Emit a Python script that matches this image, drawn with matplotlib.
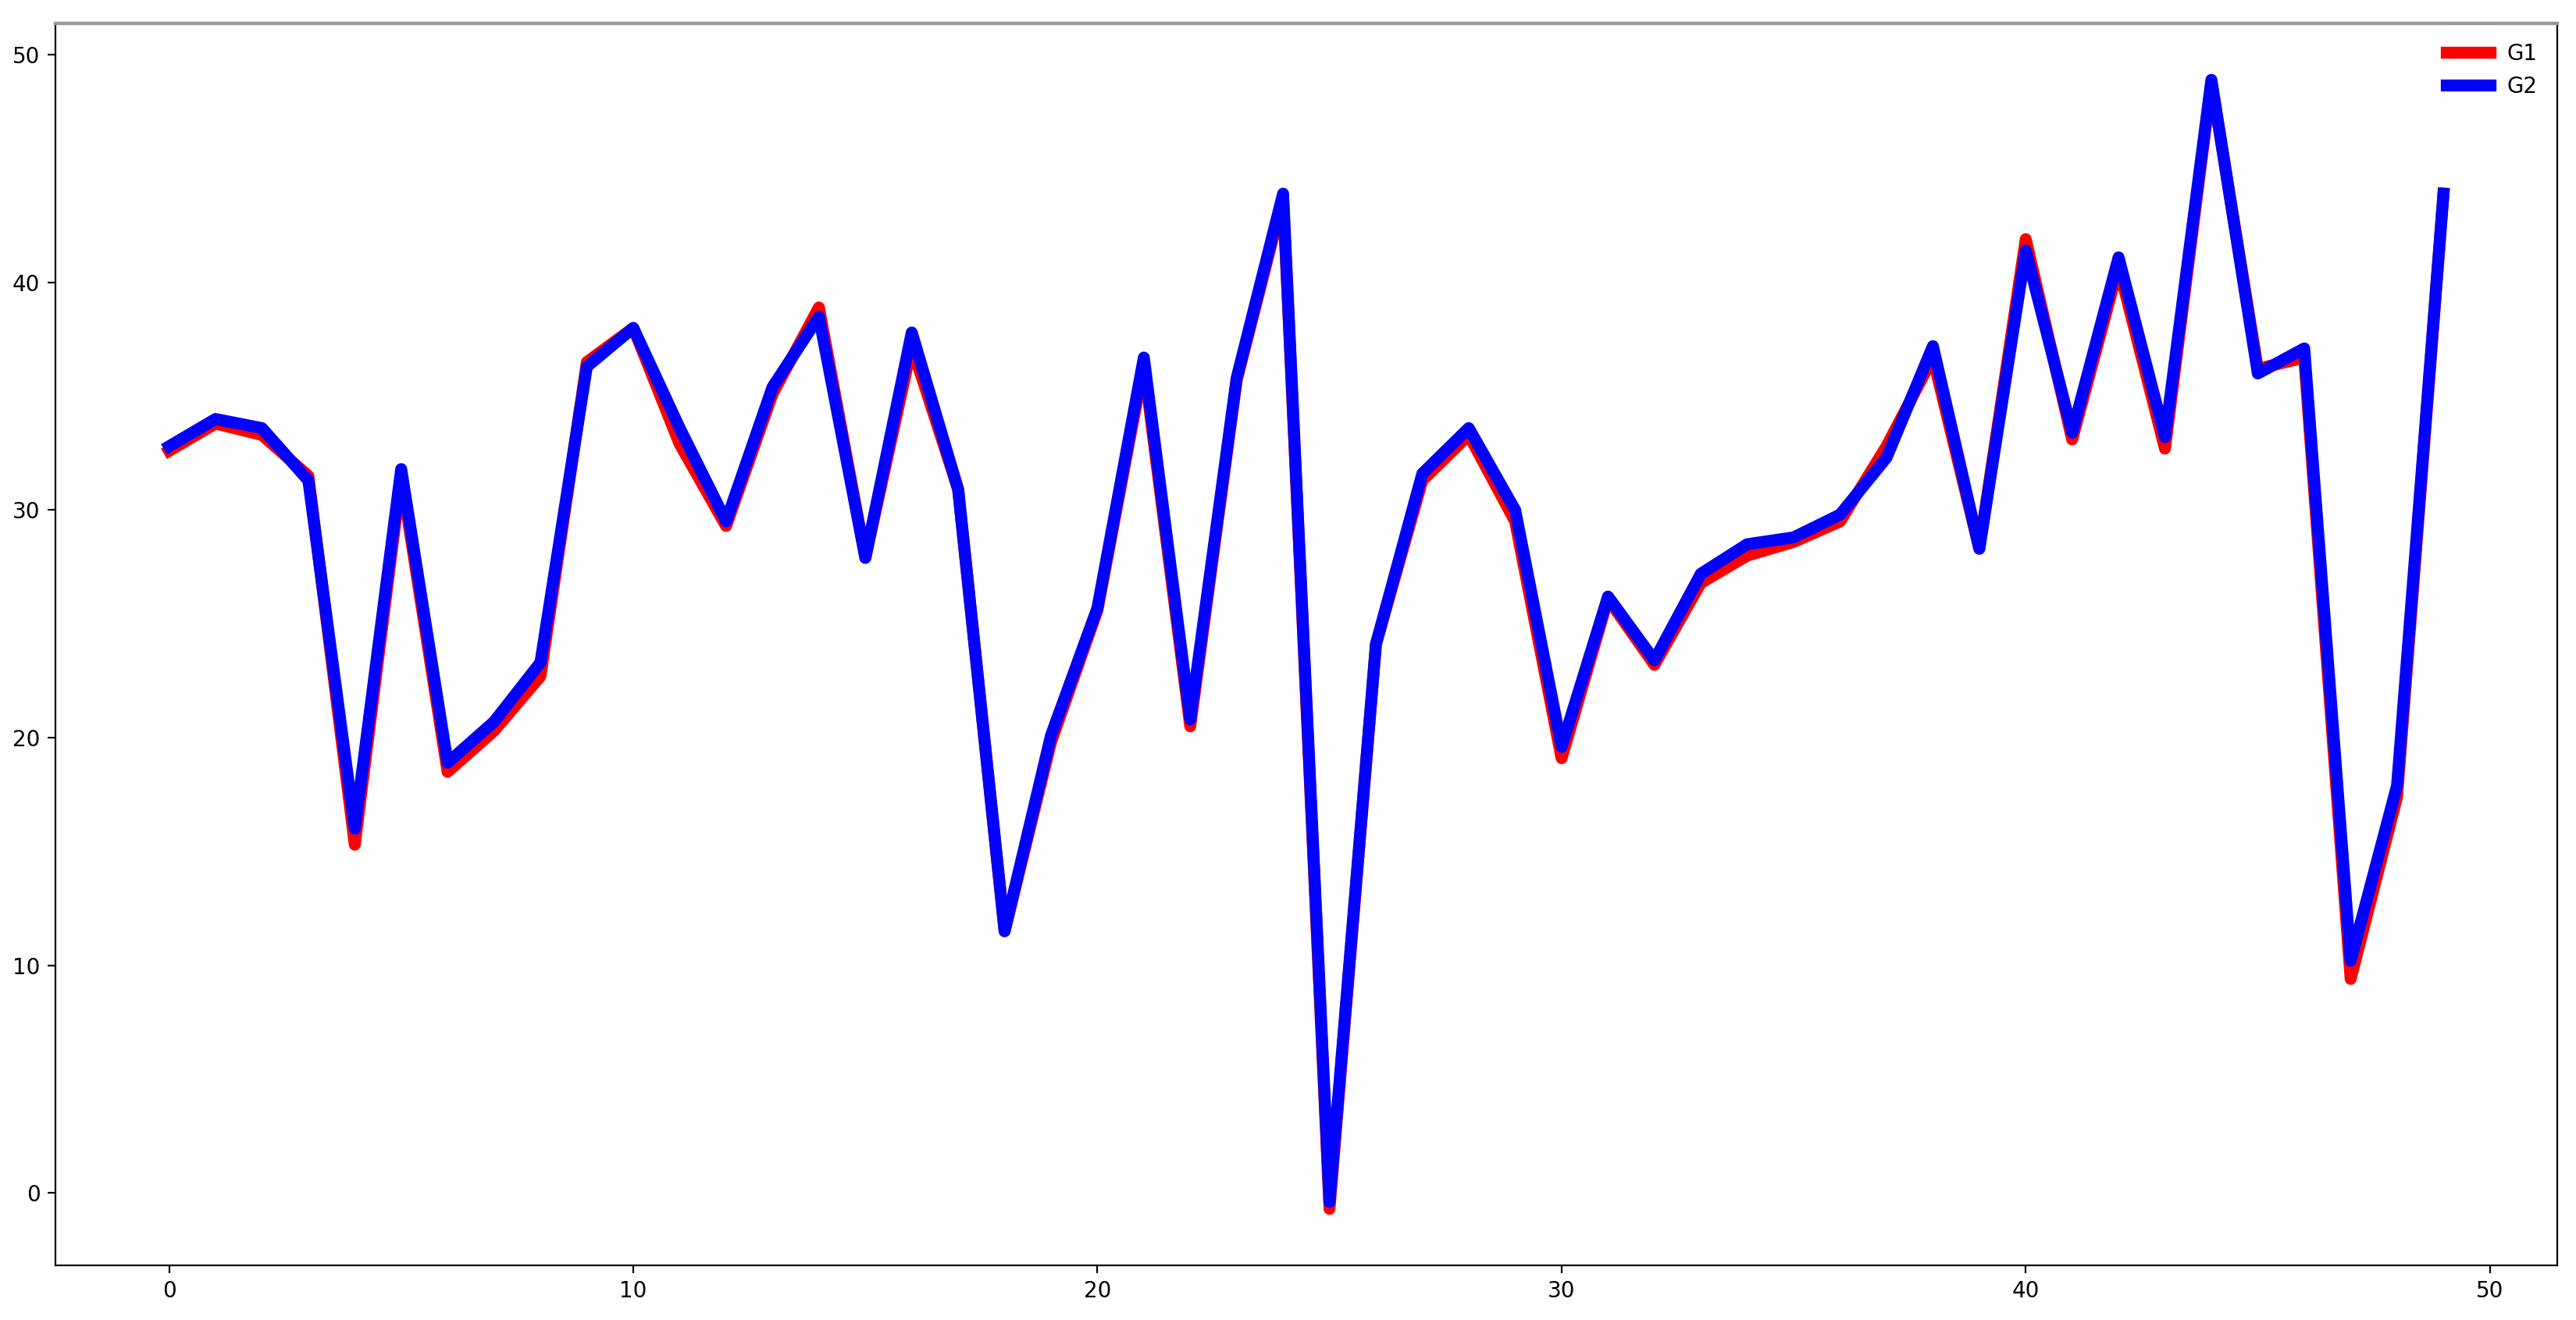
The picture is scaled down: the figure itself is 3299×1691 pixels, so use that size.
import numpy as np
import matplotlib
matplotlib.use("Agg")
import matplotlib.pyplot as plt

# values
x = np.arange(50)
g1 = [32.6, 33.8, 33.3, 31.5, 15.3, 31.5, 18.5, 20.3, 22.7, 36.5,
      38.0, 32.9, 29.3, 35.1, 38.9, 27.9, 37.2, 30.9, 11.5, 19.8,
      25.6, 36.4, 20.5, 35.7, 43.7, -0.7, 24.1, 31.3, 33.3, 29.5,
      19.1, 26.1, 23.2, 26.8, 28.0, 28.6, 29.5, 32.8, 36.7, 28.3,
      41.9, 33.1, 40.7, 32.7, 48.8, 36.2, 36.7, 9.4, 17.4, 43.9]
g2 = [32.8, 34.0, 33.6, 31.3, 16.0, 31.8, 18.9, 20.7, 23.3, 36.3,
      38.0, 33.6, 29.5, 35.4, 38.5, 27.9, 37.8, 30.9, 11.5, 20.1,
      25.7, 36.7, 20.8, 35.8, 43.9, -0.4, 24.1, 31.6, 33.6, 30.0,
      19.6, 26.2, 23.4, 27.2, 28.5, 28.8, 29.8, 32.3, 37.2, 28.3,
      41.4, 33.4, 41.1, 33.2, 48.9, 36.0, 37.1, 10.2, 17.9, 43.9]

fig = plt.figure(figsize=(16.495, 8.455), dpi=200)
ax = fig.add_axes([0.0215, 0.0414, 0.9712, 0.9409])

ax.plot(x, g1, color="red", linewidth=5.5, label="G1")
ax.plot(x, g2, color="blue", linewidth=5.5, label="G2")

ax.spines["top"].set_color("#999999")
ax.spines["top"].set_linewidth(1.6)
ax.legend(loc="upper right", frameon=False)

fig.savefig("out.png", dpi=200)
